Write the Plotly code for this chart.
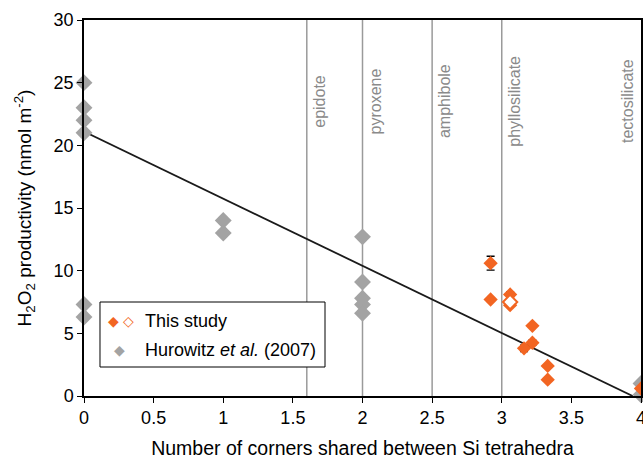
import plotly.graph_objects as go

# Hurowitz et al. (2007)
hur_x = [0, 0, 0, 0, 0, 0, 1, 1, 2, 2, 2, 2, 2, 4, 4]
hur_y = [25, 23, 22, 21, 7.3, 6.3, 14, 13, 12.7, 9.1, 7.8, 7.3, 6.6, 1.0, 0.1]

# This study (filled)
ts_x = [2.92, 2.92, 3.06, 3.06, 3.16, 3.22, 3.22, 3.33, 3.33, 4.0]
ts_y = [10.6, 7.7, 8.1, 7.25, 3.8, 5.6, 4.25, 2.4, 1.3, 0.6]
ts_err = [0.55, 0.12, 0.2, 0.0, 0.25, 0.0, 0.2, 0.0, 0.0, 0.0]

# This study (open)
tso_x = [3.06]
tso_y = [7.5]

# regression line
fit_x = [0, 3.94]
fit_y = [21.1, 0]

# mineral group lines
min_x = [1.6, 2.0, 2.5, 3.0, 4.0]
min_names = ["epidote", "pyroxene", "amphibole", "phyllosilicate", "tectosilicate"]
min_label_y = 23.5

x_ticks = [0, 0.5, 1, 1.5, 2, 2.5, 3, 3.5, 4]
x_tick_text = ["0", "0.5", "1", "1.5", "2", "2.5", "3", "3.5", "4"]
y_ticks = [0, 5, 10, 15, 20, 25, 30]

legend_labels = ["This study", "Hurowitz <i>et al.</i> (2007)"]

ORANGE = "#f26522"
GREY = "#a3a3a3"
FONT = "Liberation Sans, Arial, sans-serif"

fig = go.Figure()

fig.add_trace(go.Scatter(
    x=fit_x, y=fit_y, mode="lines",
    line=dict(color="#1a1a1a", width=1.8),
    showlegend=False, hoverinfo="skip"))

fig.add_trace(go.Scatter(
    x=hur_x, y=hur_y, mode="markers",
    marker=dict(symbol="diamond", size=13, color=GREY),
    showlegend=False, cliponaxis=False))

fig.add_trace(go.Scatter(
    x=ts_x, y=ts_y, mode="markers",
    marker=dict(symbol="diamond", size=11, color=ORANGE),
    error_y=dict(type="data", array=ts_err, color="black", thickness=1.3, width=4),
    showlegend=False, cliponaxis=False))

fig.add_trace(go.Scatter(
    x=tso_x, y=tso_y, mode="markers",
    marker=dict(symbol="diamond", size=11, color="white",
                line=dict(color=ORANGE, width=2)),
    showlegend=False, cliponaxis=False))

shapes = []
annotations = []
for xv, nm in zip(min_x, min_names):
    if xv < 4:
        shapes.append(dict(type="line", xref="x", yref="y", x0=xv, x1=xv, y0=0, y1=30,
                           line=dict(color="#9a9a9a", width=1.5), layer="below"))
        xanchor, xshift = "left", 2
    else:
        xanchor, xshift = "right", -3
    annotations.append(dict(x=xv, y=min_label_y, xref="x", yref="y", text=nm,
                            textangle=-90, showarrow=False, xanchor=xanchor,
                            xshift=xshift,
                            font=dict(family=FONT, size=16, color="#8a8a8a")))

# hand-built legend box (reference shows filled + open diamond for "This study")
shapes.append(dict(type="rect", xref="paper", yref="paper",
                   x0=0.0287, x1=0.4327, y0=0.0771, y1=0.25,
                   line=dict(color="black", width=1), fillcolor="white", layer="above"))
leg_font = dict(family=FONT, size=18, color="black")
sym_font = dict(family="DejaVu Sans", size=14)
annotations += [
    dict(xref="paper", yref="paper", x=0.0521, y=0.1995, text="◆", showarrow=False,
         font=dict(sym_font, color=ORANGE), xanchor="center", yanchor="middle"),
    dict(xref="paper", yref="paper", x=0.079, y=0.1995, text="◇", showarrow=False,
         font=dict(sym_font, color=ORANGE), xanchor="center", yanchor="middle"),
    dict(xref="paper", yref="paper", x=0.1059, y=0.1995, text=legend_labels[0],
         showarrow=False, font=leg_font, xanchor="left", yanchor="middle"),
    dict(xref="paper", yref="paper", x=0.0646, y=0.1223, text="◆", showarrow=False,
         font=dict(sym_font, color=GREY), xanchor="center", yanchor="middle"),
    dict(xref="paper", yref="paper", x=0.1059, y=0.1223, text=legend_labels[1],
         showarrow=False, font=leg_font, xanchor="left", yanchor="middle"),
]

fig.update_layout(
    width=643, height=459,
    margin=dict(l=84, r=2, t=20, b=63, autoexpand=False),
    paper_bgcolor="white", plot_bgcolor="white",
    font=dict(family=FONT, size=18, color="black"),
    showlegend=False,
    shapes=shapes, annotations=annotations,
    xaxis=dict(range=[0, 4], tickvals=x_ticks, ticktext=x_tick_text,
               automargin=False, ticklabeloverflow="allow",
               showgrid=False, zeroline=False, showline=True, linecolor="black",
               linewidth=1.5, mirror=True, ticks="outside", ticklen=5,
               tickcolor="black", tickfont=dict(size=18),
               title=dict(text="Number of corners shared between Si tetrahedra",
                          font=dict(size=19.5), standoff=14)),
    yaxis=dict(range=[0, 30], tickvals=y_ticks, automargin=False,
               ticklabeloverflow="allow",
               showgrid=False, zeroline=False, showline=True, linecolor="black",
               linewidth=1.5, mirror=True, ticks="outside", ticklen=5,
               tickcolor="black", tickfont=dict(size=18),
               title=dict(text="H<sub>2</sub>O<sub>2</sub> productivity (nmol m<sup>-2</sup>)",
                          font=dict(size=19), standoff=17)),
)

fig.write_html("out.html", config={"displayModeBar": False},
               post_script="document.body.style.margin='0';document.body.style.overflow='hidden';")
